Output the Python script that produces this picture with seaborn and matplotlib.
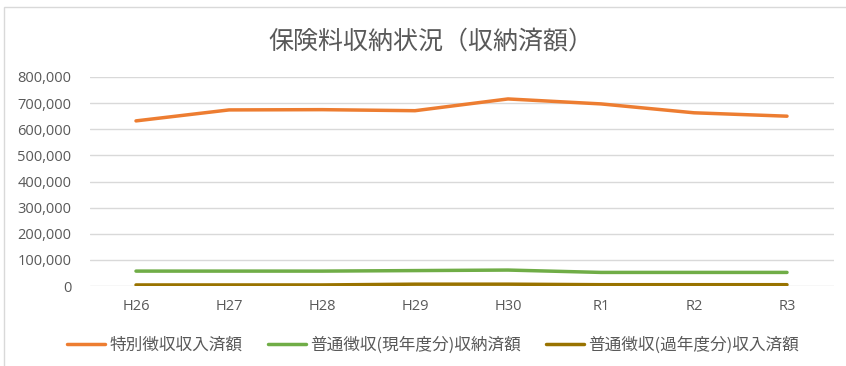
import matplotlib
matplotlib.use("Agg")
import matplotlib.pyplot as plt
import matplotlib.ticker as mticker
from matplotlib.patches import Rectangle
import pandas as pd
import seaborn as sns

# Fiscal years (Heisei 26 – Reiwa 3)
years = ["H26", "H27", "H28", "H29", "H30", "R1", "R2", "R3"]
special = [632000, 674000, 675000, 671000, 716000, 697000, 663000, 650000]
ordinary_current = [57000, 57000, 57000, 59000, 61000, 52000, 52000, 52000]
ordinary_past = [4000, 4000, 4000, 7000, 7000, 5000, 5000, 5000]

series_names = ["特別徴収収入済額", "普通徴収(現年度分)収納済額", "普通徴収(過年度分)収入済額"]
colors = ["#ED7D31", "#70AD47", "#997300"]

df = pd.DataFrame({
    "year": years * 3,
    "value": special + ordinary_current + ordinary_past,
    "series": [series_names[0]] * 8 + [series_names[1]] * 8 + [series_names[2]] * 8,
})

sns.set_theme(style="white")
plt.rcParams["font.family"] = ["Noto Sans CJK JP", "DejaVu Sans"]

fig = plt.figure(figsize=(8.46, 3.66), dpi=100)
fig.patches.append(Rectangle((4 / 846, -0.01), 1.0, (366 - 7) / 366 + 0.01,
                             transform=fig.transFigure, fill=False,
                             edgecolor="#D9D9D9", linewidth=1.0))

ax = fig.add_axes([89.5 / 846, (366 - 286) / 366, (833.5 - 89.5) / 846, (286 - 77) / 366])

sns.lineplot(data=df, x="year", y="value", hue="series", palette=colors,
             linewidth=2.5, sort=False, ax=ax, legend=False)
for line in ax.lines:
    line.set_solid_capstyle("round")

ax.set_xlim(-0.5, len(years) - 0.5)
ax.set_ylim(0, 800000)
ax.yaxis.set_major_locator(mticker.MultipleLocator(100000))
ax.yaxis.set_major_formatter(mticker.FuncFormatter(lambda v, p: f"{int(v):,}"))
ax.grid(axis="y", color="#D9D9D9", linewidth=1.0)
ax.set_axisbelow(True)
for s in ax.spines.values():
    s.set_visible(False)
ax.set_xlabel("")
ax.set_ylabel("")
ax.tick_params(axis="both", length=0, labelsize=10.5, labelcolor="#595959")
ax.tick_params(axis="y", pad=13)
ax.tick_params(axis="x", pad=9)
for lbl in ax.get_xticklabels() + ax.get_yticklabels():
    lbl.set_fontfamily(["Open Sans", "DejaVu Sans"])

fig.text(431 / 846, 1 - 42 / 366, "保険料収納状況（収納済額）", ha="center", va="center",
         fontsize=18, color="#595959")

handles = [plt.Line2D([], [], color=c, linewidth=2.5, solid_capstyle="round") for c in colors]
fig.legend(handles, series_names, loc="center", bbox_to_anchor=(433 / 846, 1 - 345 / 366),
           ncol=3, frameon=False, fontsize=12, labelcolor="#595959",
           handlelength=2.3, handletextpad=0.25, columnspacing=1.5)

fig.savefig("out.png", dpi=100)
